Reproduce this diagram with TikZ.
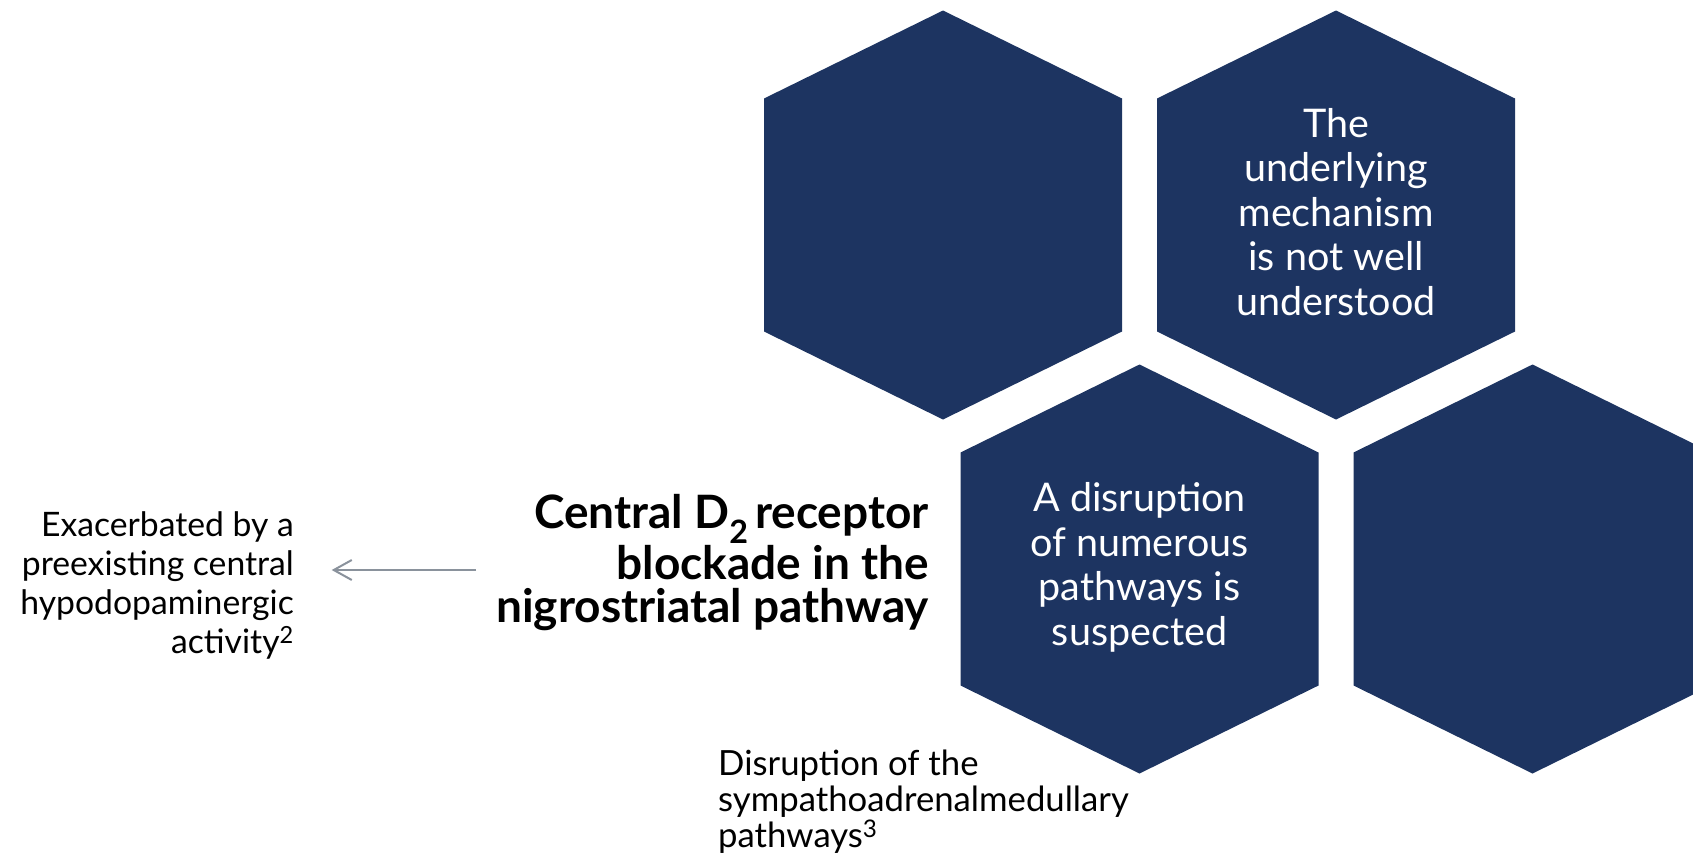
\documentclass[tikz,border=0pt]{standalone}
\usepackage{fontspec}
\setmainfont{Lato}
\usetikzlibrary{arrows.meta}

\definecolor{hexnavy}{RGB}{29,52,97}
\definecolor{arrowgrey}{RGB}{138,146,156}

% multi-line nodes sit on the baseline of their last line
\tikzset{
  hexfill/.style={fill=hexnavy},
  hextext/.style={text=white, align=center, anchor=base, inner sep=0pt,
    font=\fontsize{39.5}{44.4}\selectfont},
  mainlabel/.style={align=right, anchor=base east, inner sep=0pt,
    font=\fontsize{46}{43}\selectfont\bfseries},
  sidelabel/.style={align=right, anchor=base east, inner sep=0pt,
    font=\fontsize{33.7}{38.8}\selectfont},
  footlabel/.style={align=left, anchor=base west, inner sep=0pt,
    font=\fontsize{34.7}{36}\selectfont},
  conn/.style={draw=arrowgrey, line width=2pt,
    -{Straight Barb[length=18pt, width=20pt, line width=2pt]}}
}

% one pointy-top hexagon around a given centre
\newcommand\honeycell[2]{%
  \fill[hexfill, shift={(#1,#2)}]
    (0,-204.5) -- (179,-116.5) -- (179,116.5) -- (0,204.5)
    -- (-179,116.5) -- (-179,-116.5) -- cycle;}

\begin{document}
\begin{tikzpicture}[x=1pt, y=-1pt]
  \useasboundingbox (0,0) rectangle (1693,862);

  % honeycomb
  \honeycell{943}{215}
  \honeycell{1336}{215}
  \honeycell{1139.5}{569}
  \honeycell{1532.5}{569}

  % texts inside the cells
  \node[hextext] (mech) at (1336,315)
    {The\\underlying\\mechanism\\is not well\\understood};
  \node[hextext] (disr) at (1139.5,645)
    {A disruption\\of numerous\\pathways is\\suspected};

  % labels beside the comb
  \node[mainlabel] (d2) at (929,622)
    {Central D\textsubscript{2}\hspace{-0.1em} receptor\\blockade in the\\nigrostriatal pathway};
  \node[sidelabel] (hypo) at (294,653)
    {Exacerbated by a\\preexisting central\\hypodopaminergic\\activity\textsuperscript{2}};
  \node[footlabel] (sam) at (718,847)
    {Disruption of the\\sympathoadrenalmedullary\\pathways\textsuperscript{3}};

  % link from the blockade to its aggravating factor
  \coordinate (linkfrom) at (476,570);
  \coordinate (linkto) at (331.7,570);
  \draw[conn] (linkfrom) -- (linkto);
\end{tikzpicture}
\end{document}
